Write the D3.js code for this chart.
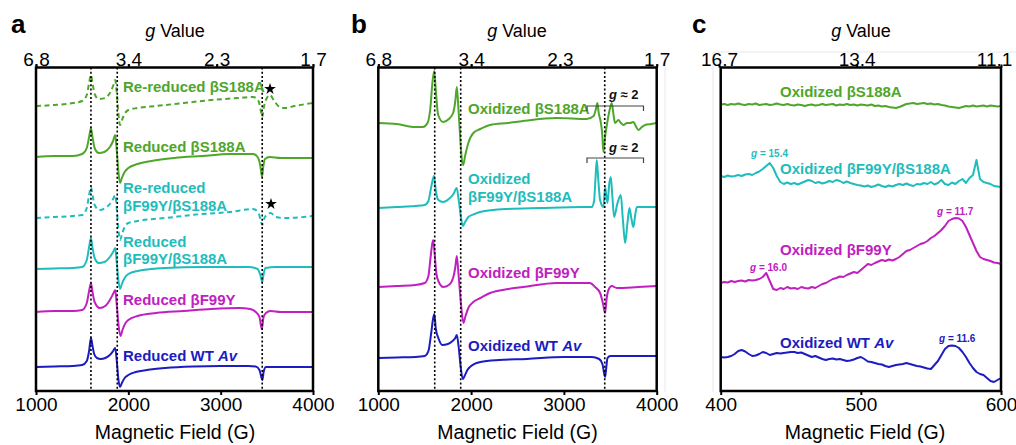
<!DOCTYPE html>
<html><head><meta charset="utf-8">
<script src="https://cdn.jsdelivr.net/npm/d3@7"></script>
<style>
body{margin:0;background:#fff}
svg{display:block}
</style></head>
<body><svg id="c" width="1016" height="445"></svg>
<script>
// ---------------- DATA ----------------
const fieldDomainAB = [1000, 4000];
const fieldDomainC = [400, 600];
const bottomTicksAB = [1000, 2000, 3000, 4000];
const bottomTicksC = [400, 500, 600];
const gTicksAB = ["6.8", "3.4", "2.3", "1.7"];
const gTicksC = ["16.7", "13.4", "11.1"];
const gConstAB = 6800;   // g * B(G)
const gConstC = 6660;
const dottedA = [1595, 1880, 3450];
const dottedB = [1608, 1888, 3440];

// Panel a : [field (G), intensity (a.u., stacked)]
const reReducedS188A = [[1000,285],[1200,286],[1400,288],[1500,290],[1550,296],[1575,308],[1595,316],[1612,308],[1635,297],[1680,292],[1750,293],[1800,298],[1835,305],[1858,311],[1875,298],[1892,278],[1910,266],[1935,272],[1965,278],[2000,281],[2100,283],[2300,285],[2600,288],[2900,291],[3200,293],[3350,294],[3410,290],[3435,280],[3450,274],[3468,284],[3500,293],[3534,296],[3580,290],[3640,284],[3700,283],[3800,285],[4000,288]];
const reducedS188A = [[1000,234],[1200,235],[1400,235],[1500,237],[1550,243],[1575,254],[1595,263],[1612,254],[1635,243],[1680,238],[1740,239],[1800,244],[1835,250],[1858,256],[1875,240],[1892,220],[1910,208],[1930,213],[1960,219],[2000,223],[2100,227],[2250,230],[2500,233],[2800,235],[3100,237],[3350,237],[3400,234],[3430,225],[3448,214],[3462,225],[3480,232],[3530,234],[3650,233],[4000,233]];
const reReducedF99YS188A = [[1000,173],[1200,174],[1400,175],[1500,176],[1550,183],[1575,196],[1595,204],[1612,196],[1635,186],[1690,181],[1750,183],[1800,187],[1835,192],[1858,196],[1875,182],[1892,162],[1910,151],[1935,158],[1965,165],[2000,168],[2100,170],[2400,173],[2800,177],[3100,179],[3350,182],[3410,178],[3435,170],[3450,166],[3470,172],[3510,177],[3540,178],[3600,174],[3680,173],[4000,175]];
const reducedF99YS188A = [[1000,122],[1200,122.5],[1400,123],[1500,124],[1550,131],[1575,144],[1595,153],[1612,143],[1635,133],[1680,128],[1740,129],[1800,134],[1835,139],[1858,143],[1875,128],[1892,111],[1910,102],[1930,107],[1960,113],[2000,117],[2100,120],[2400,123],[2800,124],[3300,124],[3400,122],[3430,116],[3450,109],[3465,117],[3485,123],[3600,124],[4000,124]];
const reducedF99Y = [[1000,79],[1200,80],[1400,80],[1500,81],[1550,88],[1575,100],[1595,108],[1612,99],[1635,89],[1690,83],[1750,85],[1800,91],[1835,97],[1858,101],[1875,86],[1895,65],[1915,55],[1940,62],[1970,68],[2000,71],[2100,75],[2300,78],[2600,80],[2900,82],[3200,83],[3320,82],[3380,79],[3420,74],[3445,62],[3465,74],[3490,78],[3540,80],[3650,79],[4000,79]];
const reducedWT = [[1000,24],[1200,24.5],[1400,25],[1500,26],[1550,30],[1575,40],[1595,53],[1612,45],[1630,37],[1660,33],[1700,32],[1750,33],[1800,36],[1835,40],[1858,43],[1875,30],[1892,12],[1910,4],[1930,8],[1960,13],[2000,16],[2080,19],[2200,21],[2400,23],[2700,24.5],[3000,25],[3300,25],[3380,24.5],[3420,21],[3440,14],[3452,11],[3465,19],[3490,24],[3600,24],[4000,24]];

// Panel b
const oxS188A = [[1000,268],[1200,267],[1400,264],[1480,264],[1530,268],[1560,282],[1585,310],[1603,320],[1620,300],[1645,276],[1700,269],[1760,272],[1806,278],[1830,290],[1846,304],[1865,280],[1885,250],[1905,228],[1915,226],[1935,235],[1970,248],[2024,258],[2100,262],[2204,266],[2400,268],[2560,270],[2926,273],[3246,272],[3320,275],[3345,282],[3361,288],[3375,278],[3395,270],[3412,258],[3426,239],[3445,255],[3470,270],[3495,282],[3516,288],[3535,276],[3551,268],[3587,271],[3615,268],[3641,266],[3680,268],[3713,268],[3749,269],[3780,264],[3803,261],[3840,264],[3875,266],[3940,267],[4000,268]];
const oxF99YS188A = [[1000,183],[1200,184],[1400,185],[1500,186],[1540,190],[1570,204],[1600,215],[1620,200],[1647,191],[1700,189],[1760,192],[1810,197],[1845,203],[1865,192],[1890,174],[1910,165],[1930,168],[1970,174],[2040,177],[2096,179],[2387,182],[2743,183],[3200,184],[3300,184],[3325,190],[3340,212],[3354,231],[3370,212],[3390,191],[3426,184],[3444,204],[3469,188],[3490,208],[3505,214],[3522,195],[3541,174],[3575,187],[3613,196],[3635,172],[3660,148],[3685,168],[3706,183],[3728,172],[3749,164],[3768,176],[3786,184],[3900,184],[4000,184]];
const oxF99Y = [[1000,104],[1200,105],[1400,106],[1500,108],[1540,115],[1565,135],[1590,151],[1605,140],[1625,118],[1647,110],[1700,104],[1760,106],[1806,113],[1830,124],[1846,135],[1866,115],[1890,88],[1917,68],[1940,75],[1970,83],[2024,89],[2100,93],[2204,98],[2400,102],[2560,104],[2926,108],[3280,108],[3336,104],[3390,98],[3420,88],[3444,78],[3460,92],[3480,101],[3516,105],[3570,103],[3800,104],[4000,105]];
const oxWT = [[1000,33],[1200,33.5],[1400,34],[1500,35],[1540,40],[1570,58],[1590,72],[1604,77],[1620,62],[1647,53],[1690,46],[1750,47],[1800,50],[1830,53],[1846,56],[1866,44],[1888,24],[1910,12],[1930,15],[1960,21],[2000,25],[2100,29],[2300,31],[2600,32],[3000,34],[3300,34],[3380,32],[3415,27],[3435,17],[3444,14],[3455,22],[3470,33],[3500,35],[4000,35]];

// Panel c : intensities sampled every 2.5 G from 400 G
const cStep = 2.5;
const oxS188A_C = [286.5,287,286,287,286.5,287.5,286.5,286,287,286.5,287.5,286,286.5,287,286,286.5,287.5,286.5,286,287,286,
 285.5,286.5,286,285,286,286.5,285.5,286,287,286,286.5,287,285.5,286.5,286,287,286,286.5,285.5,286.5,
 286,285.5,286.5,285,285.5,284.5,285,284,283.5,283,284,285.5,287,287.5,288,287,287.5,288,287,287.5,
 286.5,287,286,285.5,284.5,284,283.5,283,284,285,284.5,285.5,284.5,285,285.5,284.5,285.5,285,284.5,285];
const oxF99YS188A_C = [215,214,215.5,214.5,215,216,215,216.5,217,216,218,219.5,222,225,228,223,215,209,207,208.5,207,
 208,206.5,208,209.5,211,210,208,209,207.5,208.5,210,209,211,210,208,209.5,208,207,206,205.5,
 204.5,205.5,204,205,206.5,205,204,205.5,204.5,206,207,206,207.5,206,205,207,206.5,208,207,209,
 206.5,208,211,207,206,208.5,207,210,212,208,213,216,231,212,209,208,207,205,204.5,204];
const oxF99Y_C = [108,109,108.5,110,109,110,110.5,109.5,111,110.5,111,112,114,118,110,102,101,103,102,104,102.5,
 103,102,104,103,102.5,104,103,105,107,108,110,112,113,114.5,114,116,117.5,119,118,121,
 124,127,126,128,129.5,131,130,131.5,130.5,132,134,137,140,141,143,145,147,148,150,153,
 155,158,161,165,170,172,173,172.5,170,164,156,148,140,134,132,131,130,128.5,128,127];
const oxWT_C = [34,33.5,34,35,37,40,41,39.5,37,35,35.5,37,39,38,36,37,38,37.5,38,38.5,39,
 39,38,38.5,37,35.5,34,35,33.5,32,31,32,32.5,31.5,32,31,30,30.5,31.5,33,34,
 32,29.5,29,28,27,26.5,25,24,25,26,26.5,27,28,27,26,25,24.5,23.5,22.5,22,
 26,30,36,42,45,45.5,45,43,39,34,28,23,19,17,16,13,10,9,11,13];

// ---------------- STYLE / LAYOUT ----------------
const COL = {green:"#4ea62b", cyan:"#1fbcbc", magenta:"#c020c0", blue:"#1c1cc0"};
const FONT = '"Liberation Sans", Arial, Helvetica, sans-serif';
const svg = d3.select("#c").attr("font-family", FONT);
const yTop = 67.5, yBot = 391;
const y = d3.scaleLinear().domain([0, 324]).range([391, 67]);

// faint background frames (scan artefacts)
svg.append("line").attr("x1",665).attr("x2",665).attr("y1",52).attr("y2",392).attr("stroke","#e8e8e8");
svg.append("line").attr("x1",713).attr("x2",713).attr("y1",52).attr("y2",392).attr("stroke","#e8e8e8");
svg.append("line").attr("x1",713).attr("x2",1016).attr("y1",52).attr("y2",52).attr("stroke","#e8e8e8");

function toPairs(vals, start){ return vals.map((v,i)=>[start + i*cStep, v]); }

function drawLabel(g, x, yb, lines, color, size, lh){
  lines.forEach((segs, li) => {
    const t = g.append("text").attr("x", x).attr("y", yb + li*lh)
      .attr("fill", color).attr("font-size", size).attr("font-weight", "bold");
    segs.forEach(s => {
      const ts = t.append("tspan").text(s[0]);
      if (s[1]) ts.attr("font-style", "italic");
    });
  });
}

function panel(o){
  const g = svg.append("g");
  const x = d3.scaleLinear().domain(o.domain).range([o.x0, o.x1]);
  // bottom axis
  const ba = g.append("g").attr("transform", `translate(0,${yBot})`)
    .call(d3.axisBottom(x).tickValues(o.bottomTicks).tickSize(4).tickPadding(3).tickFormat(d3.format("d")));
  ba.select(".domain").remove();
  ba.attr("font-size", 19).attr("font-family", FONT);
  ba.selectAll("line").attr("stroke", "#000").attr("stroke-width", 2);
  ba.selectAll("text").attr("fill", "#000");
  // top axis (g values)
  const ta = g.append("g").attr("transform", `translate(0,${yTop})`)
    .call(d3.axisTop(x).tickValues(o.gTicks.map(s => o.gConst / (+s)))
      .tickFormat((d, i) => o.gTicks[i]).tickSize(3).tickPadding(-1));
  ta.select(".domain").remove();
  ta.attr("font-size", 19).attr("font-family", FONT);
  ta.selectAll("line").attr("stroke", "#000").attr("stroke-width", 2);
  ta.selectAll("text").attr("fill", "#000");
  if (o.lastTopDx) ta.selectAll("text").filter((d, i, n) => i === n.length - 1).attr("dx", o.lastTopDx);
  // titles
  const tt = g.append("text").attr("x", o.gTitleX).attr("y", 37).attr("text-anchor", "middle").attr("font-size", 18);
  tt.append("tspan").attr("font-style", "italic").text("g");
  tt.append("tspan").text(" Value");
  g.append("text").attr("x", o.xTitleX).attr("y", 439).attr("text-anchor", "middle").attr("font-size", 19.5).text("Magnetic Field (G)");
  g.append("text").attr("x", o.letterX).attr("y", 33).attr("font-size", 26).attr("font-weight", "bold").text(o.letter);
  // traces
  o.traces.forEach(t => {
    g.append("path").datum(t.data)
      .attr("d", d3.line().x(d => x(d[0])).y(d => y(d[1])).curve(t.linear ? d3.curveLinear : d3.curveMonotoneX))
      .attr("fill", "none").attr("stroke", t.color).attr("stroke-width", 2)
      .attr("stroke-linejoin", "round")
      .attr("stroke-dasharray", t.dashed ? "5,3.5" : null);
  });
  // dotted guide lines
  (o.dotted || []).forEach(f => {
    g.append("line").attr("x1", x(f)).attr("x2", x(f)).attr("y1", yTop).attr("y2", yBot)
      .attr("stroke", "#000").attr("stroke-width", 1.6).attr("stroke-dasharray", "2,2.2");
  });
  // frame
  g.append("rect").attr("x", o.x0).attr("y", yTop).attr("width", o.x1 - o.x0).attr("height", yBot - yTop)
    .attr("fill", "none").attr("stroke", "#000").attr("stroke-width", 2.5);
  return {g, x};
}

// ---------- Panel a ----------
const A = panel({letter:"a", letterX:11, domain:fieldDomainAB, x0:36, x1:313, bottomTicks:bottomTicksAB,
  gTicks:gTicksAB, gConst:gConstAB, gTitleX:175, xTitleX:175, dotted:dottedA,
  traces:[
    {data:reReducedS188A, color:COL.green, dashed:true},
    {data:reducedS188A, color:COL.green},
    {data:reReducedF99YS188A, color:COL.cyan, dashed:true},
    {data:reducedF99YS188A, color:COL.cyan},
    {data:reducedF99Y, color:COL.magenta},
    {data:reducedWT, color:COL.blue}
  ]});
drawLabel(A.g, 123, 92, [[["Re-reduced βS188A"]]], COL.green, 15, 18);
drawLabel(A.g, 123, 152, [[["Reduced βS188A"]]], COL.green, 15, 18);
drawLabel(A.g, 123, 193, [[["Re-reduced"]], [["βF99Y/βS188A"]]], COL.cyan, 15, 18);
drawLabel(A.g, 123, 247, [[["Reduced"]], [["βF99Y/βS188A"]]], COL.cyan, 15, 17);
drawLabel(A.g, 123, 305, [[["Reduced βF99Y"]]], COL.magenta, 15, 18);
drawLabel(A.g, 123, 361, [[["Reduced WT "], ["Av", true]]], COL.blue, 15, 18);
const star = d3.symbol().type(d3.symbolStar).size(42);
[[270, 89], [271, 204]].forEach(p => A.g.append("path").attr("d", star()).attr("transform", `translate(${p[0]},${p[1]})`).attr("fill", "#000"));

// ---------- Panel b ----------
const B = panel({letter:"b", letterX:351, domain:fieldDomainAB, x0:378.3, x1:656.7, bottomTicks:bottomTicksAB,
  gTicks:gTicksAB, gConst:gConstAB, gTitleX:517, xTitleX:517.5, dotted:dottedB,
  traces:[
    {data:oxS188A, color:COL.green},
    {data:oxF99YS188A, color:COL.cyan},
    {data:oxF99Y, color:COL.magenta},
    {data:oxWT, color:COL.blue}
  ]});
drawLabel(B.g, 468, 114, [[["Oxidized βS188A"]]], COL.green, 15, 18);
drawLabel(B.g, 468, 184, [[["Oxidized"]], [["βF99Y/βS188A"]]], COL.cyan, 15, 18);
drawLabel(B.g, 468, 278, [[["Oxidized βF99Y"]]], COL.magenta, 15, 18);
drawLabel(B.g, 468, 351, [[["Oxidized WT "], ["Av", true]]], COL.blue, 15, 18);
[[106, 99], [158, 152]].forEach(p => {
  B.g.append("path").attr("d", `M587,${p[0]+5}V${p[0]}H643.5V${p[0]+5}`).attr("fill", "none").attr("stroke", "#444").attr("stroke-width", 1.2);
  const t = B.g.append("text").attr("x", 609).attr("y", p[1]).attr("font-size", 13).attr("font-weight", "bold").attr("fill", "#111");
  t.append("tspan").attr("font-style", "italic").text("g");
  t.append("tspan").text(" \u2248 2");
});

// ---------- Panel c ----------
const Cp = panel({letter:"c", letterX:692, domain:fieldDomainC, x0:720.7, x1:1001, bottomTicks:bottomTicksC,
  gTicks:gTicksC, gConst:gConstC, gTitleX:861, xTitleX:865, lastTopDx:-7,
  traces:[
    {data:toPairs(oxS188A_C, 400), color:COL.green, linear:true},
    {data:toPairs(oxF99YS188A_C, 400), color:COL.cyan, linear:true},
    {data:toPairs(oxF99Y_C, 400), color:COL.magenta, linear:true},
    {data:toPairs(oxWT_C, 400), color:COL.blue, linear:true}
  ]});
drawLabel(Cp.g, 780, 97, [[["Oxidized βS188A"]]], COL.green, 15, 18);
drawLabel(Cp.g, 780, 174, [[["Oxidized βF99Y/βS188A"]]], COL.cyan, 15, 18);
drawLabel(Cp.g, 780, 255, [[["Oxidized βF99Y"]]], COL.magenta, 15, 18);
drawLabel(Cp.g, 780, 348, [[["Oxidized WT "], ["Av", true]]], COL.blue, 15, 18);
[[751, 157, "15.4", COL.cyan], [750, 271, "16.0", COL.magenta], [937, 215, "11.7", COL.magenta], [939, 342, "11.6", COL.blue]].forEach(p => {
  const t = Cp.g.append("text").attr("x", p[0]).attr("y", p[1]).attr("font-size", 10).attr("font-weight", "bold").attr("fill", p[3]);
  t.append("tspan").attr("font-style", "italic").text("g");
  t.append("tspan").text(" = " + p[2]);
});
</script></body></html>
